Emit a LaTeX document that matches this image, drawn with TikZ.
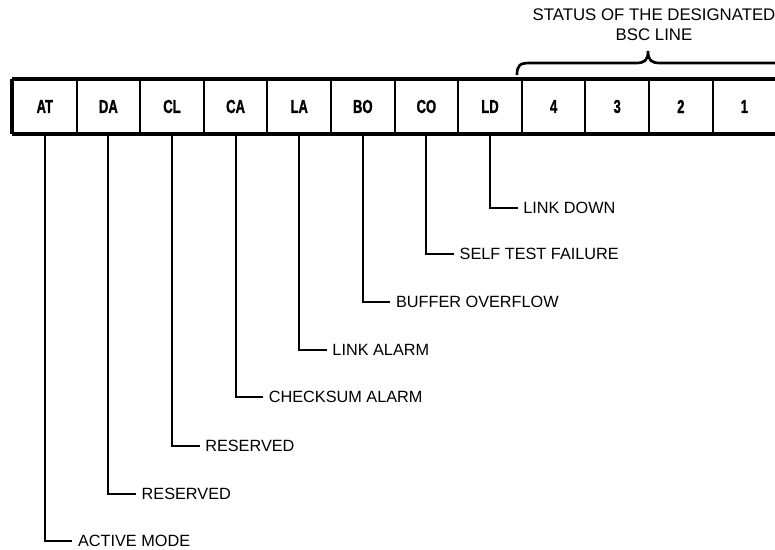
\documentclass[tikz,border=0pt]{standalone}
\usepackage{fontspec}
\setmainfont{Liberation Sans}
\newfontfamily\cellfont[BoldFeatures={FakeBold=1.5}]{Liberation Sans}
\begin{document}
\begin{tikzpicture}[x=0.75pt,y=-0.75pt,
  cell/.style={draw, line width=1.6pt, minimum width=47.7pt, minimum height=39.75pt, inner sep=0pt,
    font=\cellfont\bfseries\fontsize{14}{15}\selectfont},
  lbl/.style={anchor=west, inner sep=0pt, font=\fontsize{12.2}{14}\selectfont},
  lead/.style={line width=1.5pt},
  outer/.style={line width=3pt, line cap=square}]
\useasboundingbox (0,0) rectangle (775,550);
\clip (0,0) rectangle (775,550);
\foreach \t [count=\i] in {AT,DA,CL,CA,LA,BO,CO,LD,4,3,2,1}{
  \node[cell] (c\i) at ({13+63.6*(\i-0.5)},106.5) {\scalebox{0.7}[1]{\t}};
}
\draw[outer] (c1.north west) -- (c12.north east);
\draw[outer] (c1.south west) -- (c12.south east);
\draw[outer] (c1.north west) -- (c1.south west);
\foreach \txt/\y [count=\i] in {ACTIVE MODE/541,RESERVED/494,RESERVED/446,CHECKSUM ALARM/397,LINK ALARM/350,BUFFER OVERFLOW/302,SELF TEST FAILURE/254,LINK DOWN/208}{
  \node[lbl] (l\i) at ({13+63.6*(\i-0.5)+33},\y) {\txt};
  \draw[lead] (c\i.south) |- ([xshift=-4pt]l\i.west);
}
\node[align=center, font=\fontsize{12.6}{15}\selectfont, inner sep=0pt] (title) at (654,25) {STATUS OF THE DESIGNATED\\BSC LINE};
\draw[line width=2pt] (517,75) .. controls (517,65) and (520,63) .. (530,63) -- (636,63)
  .. controls (645,63) and (648,60) .. (648,51) .. controls (648,60) and (651,63) .. (660,63) -- (790,63);
\end{tikzpicture}
\end{document}
